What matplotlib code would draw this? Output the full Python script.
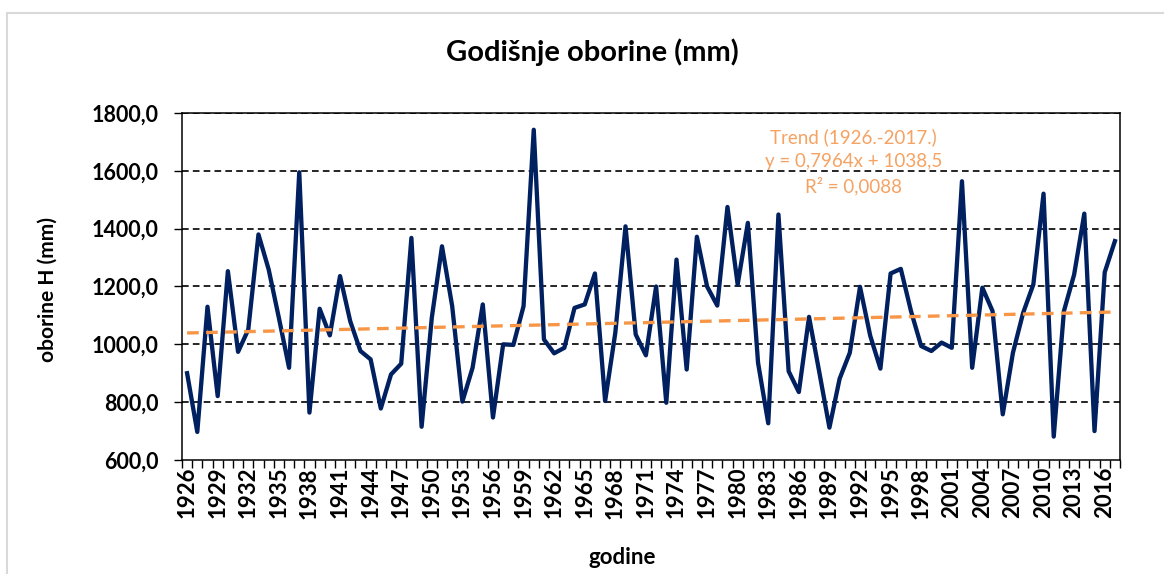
import matplotlib.pyplot as plt
from matplotlib.patches import Rectangle
import numpy as np

years = list(range(1926, 2018))
oborine = [
    900, 697, 1130, 821, 1253, 974, 1051, 1380, 1259, 1092,
    919, 1595, 764, 1123, 1031, 1236, 1080, 977, 948, 778,
    896, 933, 1368, 715, 1092, 1339, 1132, 802, 919, 1138,
    747, 1000, 998, 1132, 1742, 1017, 969, 988, 1126, 1138,
    1245, 804, 1040, 1408, 1034, 962, 1200, 798, 1293, 913,
    1372, 1200, 1134, 1475, 1207, 1420, 936, 727, 1449, 907,
    835, 1095, 905, 712, 881, 971, 1199, 1030, 916, 1245,
    1261, 1115, 994, 977, 1006, 988, 1564, 919, 1196, 1115,
    758, 971, 1109, 1207, 1521, 681, 1115, 1241, 1452, 700,
    1249, 1357,
]
trend_slope = 0.7964
trend_intercept = 1038.5
trend_label = "Trend (1926.-2017.)\ny = 0,7964x + 1038,5\nR² = 0,0088"
yticks = [600, 800, 1000, 1200, 1400, 1600, 1800]

plt.rcParams['font.family'] = ['Lato', 'DejaVu Sans']

fig = plt.figure(figsize=(11.64, 5.74), dpi=100)
# chart area border
fig.patches.append(Rectangle((7 / 1164, -0.1), 1.2, 1.1 - 13 / 574,
                             transform=fig.transFigure, fill=False,
                             edgecolor="#D9D9D9", linewidth=1.5))
ax = fig.add_axes([182 / 1164, 1 - 460 / 574, (1120 - 182) / 1164, (460 - 113) / 574])

x = np.arange(1, len(years) + 1)
for v in yticks[1:]:
    ax.axhline(v, color="black", linewidth=1.2, linestyle=(0, (4, 2.5)), zorder=1)

ax.plot(x, oborine, color="#002060", linewidth=3.1, zorder=3, solid_joinstyle="round")
ax.plot(x, trend_slope * x + trend_intercept, color="#F79646", linewidth=2.4,
        linestyle=(0, (3.5, 2.2)), zorder=4)

ax.set_xlim(0.5, len(years) + 0.5)
ax.set_ylim(600, 1800)
ax.set_yticks(yticks)
ax.set_yticklabels([f"{v:.1f}".replace(".", ",") for v in yticks],
                   fontsize=15.5, fontweight="bold")
ax.set_xticks(x[::3])
ax.set_xticklabels([str(y) for y in years[::3]], rotation=90,
                   fontsize=16, fontweight="bold")
ax.set_xticks(np.arange(0.5, len(years) + 1), minor=True)
ax.tick_params(axis="x", which="major", length=0, pad=5)
ax.tick_params(axis="x", which="minor", length=6, width=1)
ax.tick_params(axis="y", length=6, width=1, pad=11)
for s in ax.spines.values():
    s.set_linewidth(1.1)

ax.text(0.716, 0.955, trend_label, transform=ax.transAxes, ha="center", va="top",
        color="#F5A262", fontsize=13.5, linespacing=1.45)

fig.text(592 / 1164, 1 - 52 / 574, "Godišnje oborine (mm)", ha="center", va="center",
         fontsize=21, fontweight="bold")
fig.text(48 / 1164, 1 - 290 / 574, "oborine H (mm)", ha="center", va="center",
         rotation=90, fontsize=15, fontweight="bold")
fig.text(622 / 1164, 1 - 557 / 574, "godine", ha="center", va="center",
         fontsize=16, fontweight="bold")

fig.savefig("out.png", dpi=100)
